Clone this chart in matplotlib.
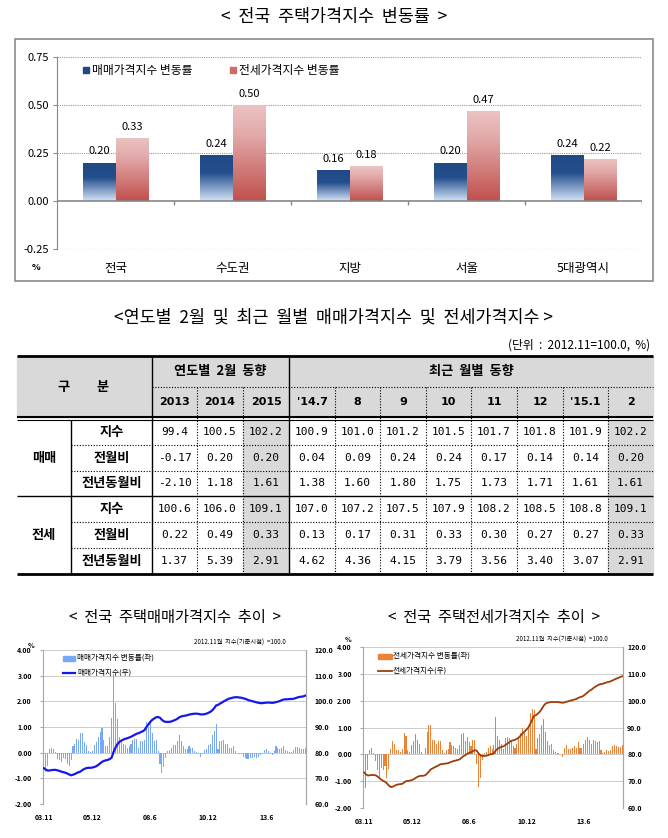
import numpy as np
import matplotlib
matplotlib.use('Agg')
import matplotlib.pyplot as plt
from matplotlib.colors import LinearSegmentedColormap
from matplotlib.patches import Rectangle
from matplotlib.lines import Line2D

plt.rcParams['font.family'] = ['Noto Sans CJK KR', 'DejaVu Sans']
plt.rcParams['axes.unicode_minus'] = False

W, H = 668, 838

# ---------------- data : top bar chart ----------------
regions = ['전국', '수도권', '지방', '서울', '5대광역시']
sale_rate = [0.20, 0.24, 0.16, 0.20, 0.24]
jeonse_rate = [0.33, 0.50, 0.18, 0.47, 0.22]
bar_legend = ['매매가격지수 변동률', '전세가격지수 변동률']
top_yticks = [-0.25, 0.00, 0.25, 0.50, 0.75]

# ---------------- data : table ----------------
year_cols = ['2013', '2014', '2015']
month_cols = ["'14.7", '8', '9', '10', '11', '12', "'15.1", '2']
row_groups = ['매매', '전세']
row_labels = ['지수', '전월비', '전년동월비']
sale_idx_row = [99.4, 100.5, 102.2, 100.9, 101.0, 101.2, 101.5, 101.7, 101.8, 101.9, 102.2]
sale_mom_row = [-0.17, 0.20, 0.20, 0.04, 0.09, 0.24, 0.24, 0.17, 0.14, 0.14, 0.20]
sale_yoy_row = [-2.10, 1.18, 1.61, 1.38, 1.60, 1.80, 1.75, 1.73, 1.71, 1.61, 1.61]
jeon_idx_row = [100.6, 106.0, 109.1, 107.0, 107.2, 107.5, 107.9, 108.2, 108.5, 108.8, 109.1]
jeon_mom_row = [0.22, 0.49, 0.33, 0.13, 0.17, 0.31, 0.33, 0.30, 0.27, 0.27, 0.33]
jeon_yoy_row = [1.37, 5.39, 2.91, 4.62, 4.36, 4.15, 3.79, 3.56, 3.40, 3.07, 2.91]

# ---------------- data : monthly series 2003.11 - 2015.2 ----------------
month_tick_pos = [0, 25, 55, 85, 115]
month_tick_lab = ['03.11', '05.12', '08.6', '10.12', '13.6']

sale_monthly_rate = [
    -0.70, -0.75,
    -0.50, 0.15, 0.18, 0.15, 0.02, -0.25, -0.28, -0.35, -0.20, -0.25, -0.45, -0.50,
    -0.30, 0.25, 0.35, 0.55, 0.50, 0.75, 0.75, 0.40, 0.30, 0.05, 0.02, 0.05,
    0.30, 0.40, 0.60, 0.80, 0.95, 0.50, 0.25, 0.25, 0.60, 1.35, 3.05, 1.95,
    1.30, 0.60, 0.40, 0.35, 0.30, 0.20, 0.25, 0.35, 0.50, 0.55, 0.55, 0.20,
    0.45, 0.45, 0.50, 1.20, 1.00, 1.15, 0.75, 0.45, 0.50, 0.05, -0.45, -0.80,
    -0.55, -0.20, 0.05, 0.10, 0.20, 0.30, 0.30, 0.45, 0.70, 0.45, 0.25, 0.15,
    0.15, 0.25, 0.20, 0.20, 0.05, 0.02, -0.05, -0.15, -0.05, 0.10, 0.15, 0.30,
    0.35, 0.70, 0.85, 1.10, 0.15, 0.45, 0.45, 0.50, 0.35, 0.35, 0.20, 0.20,
    0.25, 0.05, 0.00, -0.05, -0.05, -0.15, -0.20, -0.25, -0.25, -0.20, -0.20, -0.15,
    -0.20, -0.17, -0.10, -0.05, 0.10, 0.15, 0.05, -0.05, -0.10, 0.05, 0.25, 0.20,
    0.15, 0.20, 0.25, 0.10, 0.05, 0.02, 0.04, 0.09, 0.24, 0.24, 0.17, 0.14,
    0.14, 0.20,
]
sale_monthly_index = [
    73.9, 73.4,
    73.0, 73.1, 73.2, 73.3, 73.3, 73.1, 72.9, 72.6, 72.4, 72.2, 71.9, 71.5,
    71.2, 71.4, 71.7, 72.1, 72.4, 72.7, 73.3, 73.7, 74.0, 74.1, 74.1, 74.2,
    74.4, 74.7, 75.2, 75.8, 76.4, 76.8, 77.0, 77.2, 77.5, 78.1, 80.3, 82.0,
    83.3, 84.2, 84.7, 85.1, 85.4, 85.6, 85.9, 86.2, 86.6, 87.0, 87.4, 87.6,
    88.0, 88.3, 88.8, 90.0, 91.0, 92.0, 92.8, 93.3, 93.8, 93.9, 93.6, 92.8,
    92.2, 92.0, 92.0, 92.0, 92.2, 92.5, 92.8, 93.2, 93.8, 94.1, 94.3, 94.4,
    94.6, 94.8, 95.0, 95.1, 95.2, 95.2, 95.1, 94.9, 94.9, 95.0, 95.2, 95.5,
    95.9, 96.5, 97.3, 98.4, 98.6, 99.1, 99.5, 100.0, 100.4, 100.8, 101.1, 101.3,
    101.5, 101.6, 101.6, 101.5, 101.4, 101.2, 101.0, 100.7, 100.4, 100.2, 100.0, 99.8,
    99.6, 99.4, 99.3, 99.3, 99.4, 99.5, 99.5, 99.5, 99.4, 99.5, 99.7, 99.9,
    100.1, 100.5, 100.7, 100.8, 100.8, 100.9, 100.9, 101.0, 101.2, 101.5, 101.7, 101.8,
    101.9, 102.2,
]
jeonse_monthly_rate = [
    -0.70, -1.25,
    -0.60, 0.15, 0.25, 0.05, -0.25, -0.60, -0.85, -0.50, -0.60, -0.45, -0.90, -0.55,
    0.20, 0.50, 0.40, 0.15, 0.15, 0.10, 0.20, 0.80, 0.70, 0.15, 0.10, 0.35,
    0.50, 0.75, 0.55, 0.40, 0.10, 0.00, 0.25, 0.85, 1.10, 1.10, 0.55, 0.55,
    0.40, 0.50, 0.50, 0.15, 0.05, 0.15, 0.20, 0.45, 0.35, 0.30, 0.25, 0.20,
    0.35, 0.75, 0.80, 0.50, 0.65, 0.45, 0.30, 0.55, 0.55, -0.35, -1.20, -0.90,
    -0.20, 0.05, 0.10, 0.25, 0.30, 0.20, 0.35, 1.40, 0.70, 0.55, 0.40, 0.20,
    0.60, 0.65, 0.60, 0.55, 0.30, 0.25, 0.40, 0.60, 0.80, 1.00, 0.80, 0.70,
    0.95, 1.55, 1.70, 1.65, 0.20, 0.60, 0.75, 1.10, 1.30, 0.85, 0.50, 0.35,
    0.40, 0.15, 0.10, 0.05, 0.05, 0.00, -0.10, 0.25, 0.35, 0.20, 0.20, 0.25,
    0.30, 0.22, 0.45, 0.25, 0.25, 0.40, 0.55, 0.65, 0.55, 0.40, 0.55, 0.50,
    0.45, 0.49, 0.15, 0.05, 0.10, 0.15, 0.13, 0.17, 0.31, 0.33, 0.30, 0.27,
    0.27, 0.33,
]
jeonse_monthly_index = [
    73.3, 72.6,
    72.1, 72.2, 72.3, 72.3, 72.2, 71.8, 71.2, 70.6, 70.1, 69.8, 69.2, 68.4,
    67.8, 67.9, 68.3, 68.6, 68.8, 68.9, 69.0, 69.5, 70.0, 70.1, 70.2, 70.4,
    70.7, 71.2, 71.6, 71.9, 72.0, 72.0, 72.2, 72.8, 73.6, 74.4, 74.8, 75.2,
    75.5, 75.9, 76.3, 76.4, 76.5, 76.6, 76.7, 77.0, 77.3, 77.5, 77.7, 77.9,
    78.1, 78.7, 79.3, 79.7, 80.2, 80.5, 80.8, 81.2, 81.6, 81.3, 80.3, 79.6,
    79.4, 79.4, 79.5, 79.7, 80.0, 80.1, 80.4, 81.5, 82.1, 82.5, 82.8, 83.0,
    83.5, 84.0, 84.5, 85.0, 85.2, 85.4, 85.8, 86.3, 87.0, 87.8, 88.5, 89.2,
    90.0, 91.4, 92.9, 94.4, 94.6, 95.2, 95.9, 96.9, 98.1, 98.9, 99.2, 99.4,
    99.5, 99.5, 99.5, 99.5, 99.4, 99.3, 99.2, 99.4, 99.6, 99.8, 100.0, 100.2,
    100.4, 100.6, 101.0, 101.3, 101.5, 101.9, 102.5, 103.1, 103.7, 104.1, 104.7, 105.2,
    105.6, 106.0, 106.2, 106.3, 106.6, 106.8, 107.0, 107.2, 107.5, 107.9, 108.2, 108.5,
    108.8, 109.1,
]

# ---------------- figure ----------------
fig = plt.figure(figsize=(W / 100, H / 100), dpi=100)
ov = fig.add_axes([0, 0, 1, 1])
ov.set_xlim(0, W)
ov.set_ylim(H, 0)
ov.axis('off')


def px_axes(x0, y0, x1, y1):
    a = fig.add_axes([x0 / W, 1 - y1 / H, (x1 - x0) / W, (y1 - y0) / H])
    a.patch.set_alpha(0)
    return a


# ===== top chart =====
ov.text(334, 17, '<  전국  주택가격지수  변동률  >', ha='center', va='center', fontsize=12.5)
ov.add_patch(Rectangle((15, 39), 638, 242, fill=False, ec='#8c8c8c', lw=1.2))

ax = px_axes(57, 57, 642, 249)
xpos = np.arange(len(regions))
bw = 0.282
bars1 = ax.bar(xpos - bw / 2, sale_rate, bw, color='none', zorder=3)
bars2 = ax.bar(xpos + bw / 2, jeonse_rate, bw, color='none', zorder=3)
blue_cmap = LinearSegmentedColormap.from_list('b', [(0, '#1f4a86'), (0.4, '#244f8c'), (1, '#d3e3f8')])
pink_cmap = LinearSegmentedColormap.from_list('p', [(0, '#ebc3c3'), (0.3, '#e3aaaa'), (1, '#c0504d')])
grad = np.linspace(0, 1, 256).reshape(-1, 1)
for bars, cmap in ((bars1, blue_cmap), (bars2, pink_cmap)):
    for b in bars:
        x0, y0, w, h = b.get_x(), b.get_y(), b.get_width(), b.get_height()
        im = ax.imshow(grad, extent=[x0, x0 + w, y0, y0 + h], origin='upper',
                       aspect='auto', cmap=cmap, zorder=2.5)
        im.set_clip_path(b)
for bars, vals in ((bars1, sale_rate), (bars2, jeonse_rate)):
    for b, v in zip(bars, vals):
        ax.annotate(f'{v:.2f}', (b.get_x() + b.get_width() / 2, v), xytext=(0, 8),
                    textcoords='offset points', ha='center', va='center', fontsize=8)
ax.set_xlim(-0.5, len(regions) - 0.5)
ax.set_ylim(-0.25, 0.75)
ax.set_yticks(top_yticks)
ax.set_yticklabels([f'{v:.2f}' for v in top_yticks])
ax.set_xticks([])
for s in ('top', 'right', 'bottom'):
    ax.spines[s].set_visible(False)
ax.spines['left'].set_color('#868686')
ax.tick_params(axis='y', length=3, color='#868686', labelsize=8, pad=3)
for v in top_yticks:
    if v != 0:
        ax.axhline(v, color='#9a9a9a', lw=0.8, ls=(0, (1, 1)), zorder=1)
ax.axhline(0, color='#868686', lw=1.2, zorder=4)
ax.vlines(np.arange(0.5, len(regions) + 0.5, 1), -0.022, 0, color='#868686', lw=1, zorder=4)
for i, r in enumerate(regions):
    ax.text(i, -0.099, r, transform=ax.get_xaxis_transform(), ha='center', va='center', fontsize=9)
ov.text(36, 267, '%', ha='center', va='center', fontsize=6.5, fontweight='bold')
# legend
ov.add_patch(Rectangle((83, 67), 6, 6, color='#1f4a86'))
ov.text(92, 70.5, bar_legend[0], ha='left', va='center', fontsize=8.5)
ov.add_patch(Rectangle((230, 67), 6, 6, color='#cf6a68'))
ov.text(239, 70.5, bar_legend[1], ha='left', va='center', fontsize=8.5)

# ===== table =====
ov.text(334, 318, '<연도별  2월  및  최근  월별  매매가격지수  및  전세가격지수 >',
        ha='center', va='center', fontsize=12.5)
ov.text(650, 345, '(단위  :  2012.11=100.0,  %)', ha='right', va='center', fontsize=8.5)

TL, TR = 17, 653
col_edges = [152, 197, 243, 289, 335, 380, 426, 471, 517, 563, 608, 653]
row_edges = [419.5, 445, 470.5, 496, 522, 548, 574]
ov.add_patch(Rectangle((TL, 356), TR - TL, 61, color='#d9d9d9', zorder=1))
for ci in (2, 10):
    ov.add_patch(Rectangle((col_edges[ci], 419.5), col_edges[ci + 1] - col_edges[ci], 574 - 419.5,
                           color='#d9d9d9', zorder=1))
dot = (0, (1, 1.5))
ov.hlines([356, 574], TL, TR, color='black', lw=2, zorder=2)
ov.hlines([416.5], TL, TR, color='black', lw=1.5, zorder=2)
ov.hlines([419.5], TL, TR, color='black', lw=0.8, zorder=2)
ov.hlines([496], TL, TR, color='black', lw=1, zorder=2)
ov.hlines([387], 152, TR, color='black', lw=0.8, ls=dot, zorder=2)
ov.hlines([445, 470.5, 522, 548], 71, TR, color='black', lw=0.8, ls=dot, zorder=2)
ov.vlines([152, 289], 356, 574, color='black', lw=1, zorder=2)
ov.vlines([71], 419.5, 574, color='black', lw=1, zorder=2)
ov.vlines([197, 243, 335, 380, 426, 471, 517, 563, 608], 387, 574, color='black', lw=0.8, ls=dot, zorder=2)

ov.text(64, 386.5, '구', ha='center', va='center', fontsize=9.5, fontweight='bold', zorder=3)
ov.text(103, 386.5, '분', ha='center', va='center', fontsize=9.5, fontweight='bold', zorder=3)
ov.text((152 + 289) / 2, 371, '연도별  2월  동향', ha='center', va='center', fontsize=9.5, fontweight='bold', zorder=3)
ov.text((289 + 653) / 2, 371, '최근  월별  동향', ha='center', va='center', fontsize=9.5, fontweight='bold', zorder=3)
col_centers = [(col_edges[i] + col_edges[i + 1]) / 2 for i in range(len(col_edges) - 1)]
for cx, lab in zip(col_centers, year_cols + month_cols):
    ov.text(cx, 402, lab, ha='center', va='center', fontsize=8, fontweight='bold',
            family=['DejaVu Sans'], zorder=3)
row_centers = [(row_edges[i] + row_edges[i + 1]) / 2 for i in range(len(row_edges) - 1)]
ov.text(44, row_centers[1], row_groups[0], ha='center', va='center', fontsize=9.5, fontweight='bold', zorder=3)
ov.text(44, row_centers[4], row_groups[1], ha='center', va='center', fontsize=9.5, fontweight='bold', zorder=3)
table_rows = [sale_idx_row, sale_mom_row, sale_yoy_row, jeon_idx_row, jeon_mom_row, jeon_yoy_row]
for ri, (cy, vals) in enumerate(zip(row_centers, table_rows)):
    ov.text(111.5, cy, row_labels[ri % 3], ha='center', va='center', fontsize=9.5, fontweight='bold', zorder=3)
    fmt = '{:.1f}' if ri % 3 == 0 else '{:.2f}'
    for cx, v in zip(col_centers, vals):
        ov.text(cx, cy, fmt.format(v), ha='center', va='center', fontsize=8,
                family=['DejaVu Sans Mono'], zorder=3)


# ===== bottom small charts =====
def small_chart(box, title, title_xy, rates, index, bar_color, line_color, line_w,
                labels, lab_pad, legend_geo, note_xy, pct_xy):
    x0, y0, x1, y1 = box
    ov.text(title_xy[0], title_xy[1], title, ha='center', va='center', fontsize=11)
    a = px_axes(x0, y0, x1, y1)
    months = np.arange(len(rates))
    a.bar(months, rates, width=0.55, color=bar_color, zorder=2)
    a.set_xlim(-0.5, len(rates) - 0.5)
    a.set_ylim(-2, 4)
    yt = np.arange(-2, 5, 1)
    a.set_yticks(yt)
    a.set_yticklabels([f'{v:.2f}' for v in yt])
    a.set_xticks(month_tick_pos)
    a.set_xticklabels(month_tick_lab)
    a.grid(axis='y', color='#c4c4c4', lw=0.6, zorder=0)
    a.set_axisbelow(True)
    for s in ('top', 'bottom'):
        a.spines[s].set_visible(False)
    for s in ('left', 'right'):
        a.spines[s].set_color('#a6a6a6')
    a.tick_params(axis='y', length=2, color='#a6a6a6', labelsize=5, pad=lab_pad[0])
    a.tick_params(axis='x', length=0, labelsize=5, pad=lab_pad[2])
    for t in a.get_yticklabels() + a.get_xticklabels():
        t.set_fontweight('bold')
    a2 = a.twinx()
    a2.plot(months, index, color=line_color, lw=line_w, zorder=3)
    a2.set_ylim(60, 120)
    rt = np.arange(60, 121, 10)
    a2.set_yticks(rt)
    a2.set_yticklabels([f'{v:.1f}' for v in rt])
    a2.tick_params(axis='y', length=0, labelsize=5, pad=lab_pad[1])
    for t in a2.get_yticklabels():
        t.set_fontweight('bold')
    for s in ('top', 'bottom', 'left'):
        a2.spines[s].set_visible(False)
    a2.spines['right'].set_color('#a6a6a6')
    # legend
    lx0, lx1, ly1, ly2, tx = legend_geo
    ov.add_patch(Rectangle((lx0, ly1 - 2.5), lx1 - lx0, 5, color=bar_color))
    ov.text(tx, ly1, labels[0], ha='left', va='center', fontsize=5.5)
    ov.add_line(Line2D([lx0, lx1], [ly2, ly2], color=line_color, lw=line_w))
    ov.text(tx, ly2, labels[1], ha='left', va='center', fontsize=5.5)
    ov.text(note_xy[0], note_xy[1], '2012.11월  지수(기준시점)  =100.0', ha='center', va='center', fontsize=4.5)
    ov.text(pct_xy[0], pct_xy[1], '%', ha='center', va='center', fontsize=5, fontweight='bold')


small_chart((43, 650, 306, 804), '<  전국  주택매매가격지수  추이  >', (175, 617),
            sale_monthly_rate, sale_monthly_index, '#77a7f5', '#1616ee', 1.6,
            ['매매가격지수 변동률(좌)', '매매가격지수(우)'], (6, 6, 7),
            (63, 75, 658, 673, 77), (240, 643), (31, 645))
small_chart((363, 647, 623, 808), '<  전국  주택전세가격지수  추이  >', (494, 617),
            jeonse_monthly_rate, jeonse_monthly_index, '#ec8238', '#9c3d0c', 1.3,
            ['전세가격지수 변동률(좌)', '전세가격지수(우)'], (6, 3, 7),
            (378, 392, 656, 671, 393), (562, 640), (348, 639))

fig.savefig('out.png', dpi=100)
